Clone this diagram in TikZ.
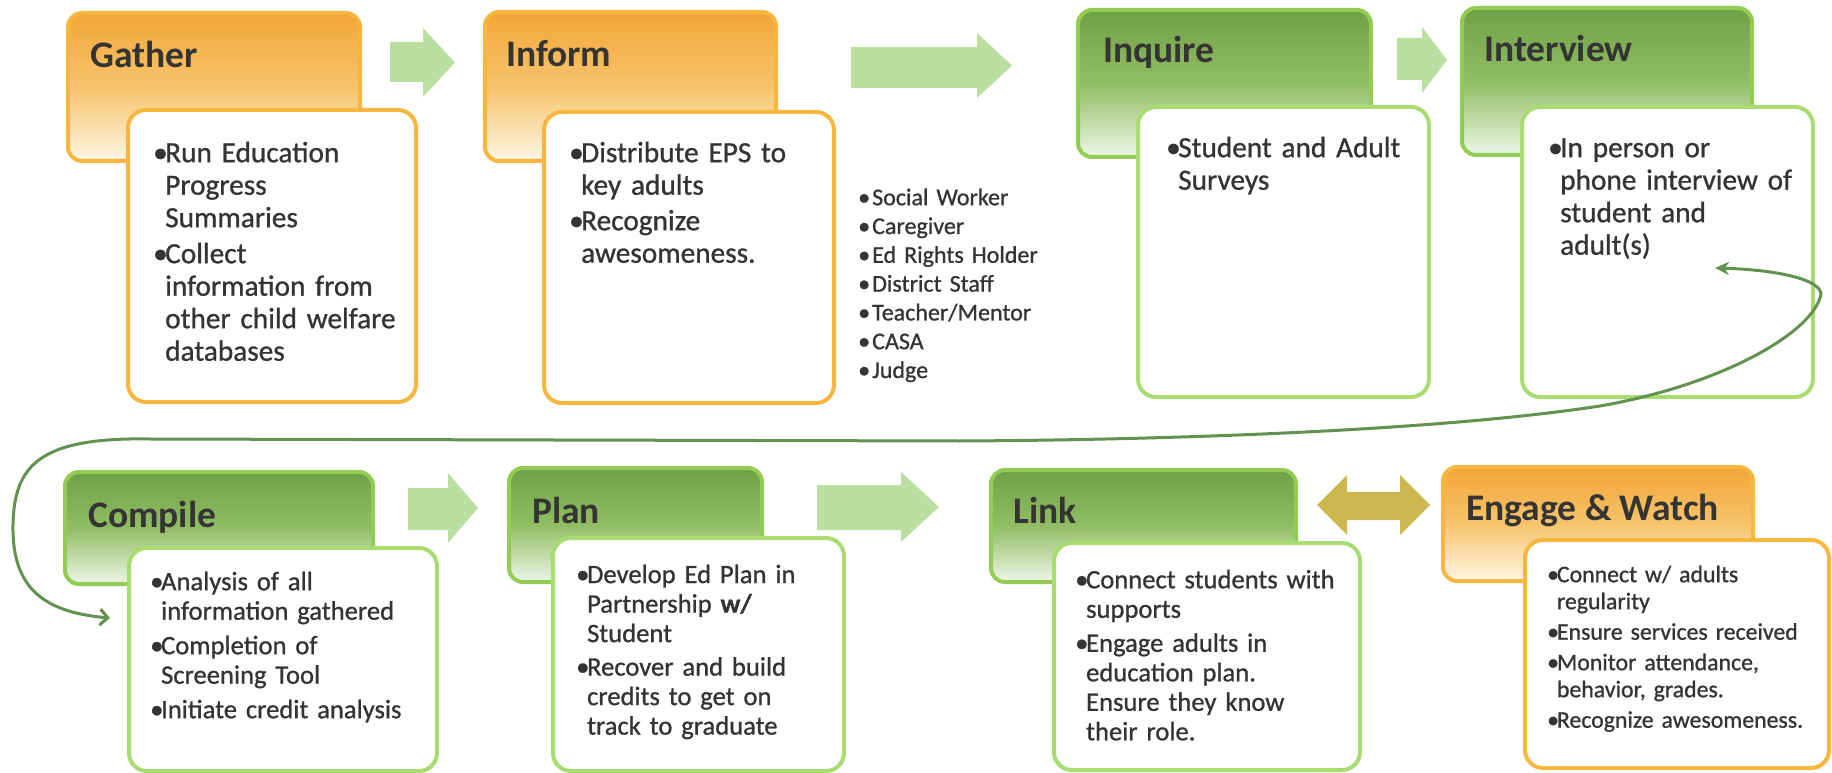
\documentclass[tikz,border=0pt]{standalone}
\usepackage{fontspec}
\setmainfont{Carlito}
\newfontfamily\bodyfont{Carlito}[FakeBold=0.9]
\usetikzlibrary{arrows.meta}

\definecolor{orTop}{RGB}{243,165,55}
\definecolor{orMid}{RGB}{247,196,108}
\definecolor{orBot}{RGB}{254,246,228}
\definecolor{orLine}{RGB}{247,182,62}
\definecolor{grTop}{RGB}{112,160,70}
\definecolor{grMid}{RGB}{145,190,100}
\definecolor{grBot}{RGB}{238,246,232}
\definecolor{grLine}{RGB}{146,204,82}
\definecolor{grBodyLine}{RGB}{168,220,112}
\definecolor{arrowGreen}{RGB}{186,223,160}
\definecolor{oliveGold}{RGB}{204,184,78}
\definecolor{loopGreen}{RGB}{98,145,80}
\definecolor{ink}{RGB}{52,52,52}

% bullet with hanging indent
\newcommand\bi{\makebox[0.41em][l]{•}}
\newcommand\ci{\hspace*{0.41em}}
\newcommand\li{\makebox[14pt][l]{•}}

\begin{document}
\begin{tikzpicture}[x=1pt,y=-1pt,
  box/.style={rounded corners=14pt, line width=4pt, anchor=north west,
    inner sep=0pt, outer sep=0pt},
  hdrO/.style={box, draw=orLine, top color=orTop, bottom color=orBot, middle color=orMid},
  hdrG/.style={box, draw=grLine, top color=grTop, bottom color=grBot, middle color=grMid},
  bodyO/.style={box, rounded corners=18pt, draw=orLine, fill=white},
  bodyG/.style={box, rounded corners=18pt, draw=grBodyLine, fill=white},
  ttl/.style={anchor=base west, inner sep=0pt, text=ink,
    font=\fontsize{37.5}{45}\selectfont\bfseries},
  btext/.style={anchor=north west, inner sep=0pt, align=left, text width=330pt, text=ink},
  rowA/.style={btext, font=\bodyfont\fontsize{29.3}{32.5}\selectfont},
  rowB/.style={btext, font=\bodyfont\fontsize{26.6}{29.5}\selectfont},
  rowC/.style={btext, font=\bodyfont\fontsize{23.8}{27}\selectfont},
  blockarrow/.style={fill=arrowGreen},
  loopline/.style={draw=loopGreen, line width=3pt,
    {Stealth[length=14pt,width=13pt]}-{Straight Barb[length=8pt,width=16pt]}}
]
\useasboundingbox (0,0) rectangle (1832,773);
\fill[white] (0,0) rectangle (1832,773);

% ---- header panels ----
\node[hdrO, minimum width=292pt, minimum height=148pt] (gatherH) at (68,13) {};
\node[hdrO, minimum width=291pt, minimum height=149pt] (informH) at (485,12) {};
\node[hdrG, minimum width=293pt, minimum height=147pt] (inquireH) at (1078,10) {};
\node[hdrG, minimum width=290pt, minimum height=147pt] (interviewH) at (1462,8) {};
\node[hdrG, minimum width=308pt, minimum height=112pt] (compileH) at (65,472) {};
\node[hdrG, minimum width=253pt, minimum height=114pt] (planH) at (509,468) {};
\node[hdrG, minimum width=305pt, minimum height=112pt] (linkH) at (991,470) {};
\node[hdrO, minimum width=310pt, minimum height=114pt] (engageH) at (1443,467) {};

% ---- titles ----
\node[ttl] (gatherT) at (90,68) {Gather};
\node[ttl] (informT) at (506,67) {Inform};
\node[ttl] (inquireT) at (1103,63) {Inquire};
\node[ttl] (interviewT) at (1484,62) {Interview};
\node[ttl] (compileT) at (88,527) {Compile};
\node[ttl] (planT) at (532,523) {Plan};
\node[ttl] (linkT) at (1013,523) {Link};
\node[ttl] (engageT) at (1466,520) {Engage \& Watch};

% ---- body panels ----
\node[bodyO, minimum width=288pt, minimum height=292pt] (gatherB) at (128,110) {};
\node[bodyO, minimum width=290pt, minimum height=291pt] (informB) at (544,112) {};
\node[bodyG, minimum width=291pt, minimum height=290pt] (inquireB) at (1138,107) {};
\node[bodyG, minimum width=291pt, minimum height=290pt] (interviewB) at (1522,107) {};
\node[bodyG, minimum width=308pt, minimum height=223pt] (compileB) at (129,548) {};
\node[bodyG, minimum width=291pt, minimum height=233pt] (planB) at (553,538) {};
\node[bodyG, minimum width=306pt, minimum height=227pt] (linkB) at (1054,543) {};
\node[bodyO, minimum width=304pt, minimum height=228pt] (engageB) at (1525,540) {};

% ---- body texts ----
\node[rowA] (gatherX) at (153,132.7) {\rule{0pt}{29.3pt}\bi Run Education\\
  \ci Progress\\ \ci Summaries\\[3.5pt]
  \bi Collect\\ \ci information from\\ \ci other child welfare\\ \ci databases};
\node[rowA] (informX) at (569,132.7) {\rule{0pt}{29.3pt}\bi Distribute EPS to\\
  \ci key adults\\[3pt]
  \bi Recognize\\ \ci awesomeness.};
\node[rowA] (inquireX) at (1166,127.7) {\rule{0pt}{29.3pt}\bi Student and Adult\\
  \ci Surveys};
\node[rowA] (interviewX) at (1548,127.7) {\rule{0pt}{29.3pt}\bi In person or\\
  \ci phone interview of\\ \ci student and\\ \ci adult(s)};
\node[rowB] (compileX) at (150,563.4) {\rule{0pt}{26.6pt}\bi Analysis of all\\
  \ci information gathered\\[5pt]
  \bi Completion of\\ \ci Screening Tool\\[5pt]
  \bi Initiate credit analysis};
\node[rowB] (planX) at (576,556.3) {\rule{0pt}{26.6pt}\bi Develop Ed Plan in\\
  \ci Partnership \textbf{w/}\\ \ci Student\\[4pt]
  \bi Recover and build\\ \ci credits to get on\\ \ci track to graduate};
\node[rowB] (linkX) at (1075,561.5) {\rule{0pt}{26.6pt}\bi Connect students with\\
  \ci supports\\[4.5pt]
  \bi Engage adults in\\ \ci education plan.\\ \ci Ensure they know\\ \ci their role.};
\node[rowC] (engageX) at (1547,558.2) {\rule{0pt}{23.8pt}\bi Connect w/ adults\\
  \ci regularity\\[3.5pt]
  \bi Ensure services received\\[3.5pt]
  \bi Monitor attendance,\\ \ci behavior, grades.\\[3.5pt]
  \bi Recognize awesomeness.};

% ---- key adults list ----
\node[btext, font=\bodyfont\fontsize{24}{28.8}\selectfont] (adults) at (858,181) {\rule{0pt}{24pt}\li Social Worker\\
  \li Caregiver\\ \li Ed Rights Holder\\ \li District Staff\\
  \li Teacher/Mentor\\ \li CASA\\ \li Judge};

% ---- block arrows ----
\fill[blockarrow] (390,42) -- (423,42) -- (423,28) -- (455,62.5) -- (423,97) -- (423,82) -- (390,82) -- cycle;
\fill[blockarrow] (851,47) -- (977,47) -- (977,33) -- (1012,65.5) -- (977,98) -- (977,88) -- (851,88) -- cycle;
\fill[blockarrow] (1397,38) -- (1422,38) -- (1422,27) -- (1447,60) -- (1422,93) -- (1422,80) -- (1397,80) -- cycle;
\fill[blockarrow] (408,488) -- (448,488) -- (448,473) -- (478,508) -- (448,543) -- (448,530) -- (408,530) -- cycle;
\fill[blockarrow] (817,485) -- (901,485) -- (901,472) -- (939,507) -- (901,542) -- (901,530) -- (817,530) -- cycle;
\fill[oliveGold] (1317,505) -- (1347,475) -- (1347,492) -- (1400,492) -- (1400,475) -- (1430,505)
  -- (1400,535) -- (1400,520) -- (1347,520) -- (1347,535) -- cycle;

% ---- loop back from Interview to Compile ----
\coordinate (loopStart) at (1715,268);
\coordinate (loopEnd) at (110,618);
\draw[loopline] (loopStart) .. controls (1785,270) and (1828,282) .. (1820,298)
  .. controls (1808,335) and (1720,385) .. (1600,406)
  .. controls (1430,432) and (1150,440) .. (960,441)
  -- (150,439)
  .. controls (40,437) and (14,465) .. (13,525)
  .. controls (12,585) and (40,612) .. (loopEnd);
\end{tikzpicture}
\end{document}
